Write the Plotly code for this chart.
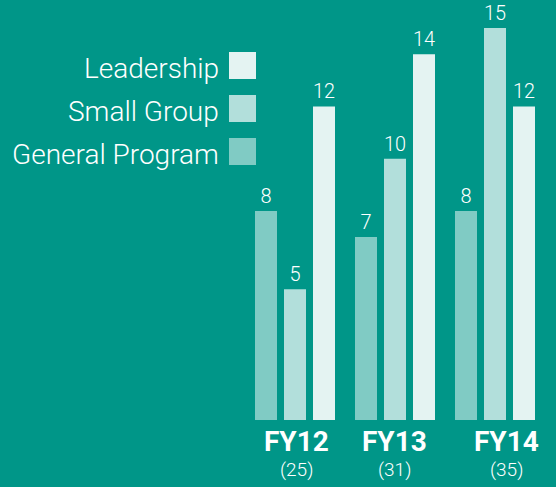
import plotly.graph_objects as go

categories = ["FY12", "FY13", "FY14"]
totals = ["(25)", "(31)", "(35)"]
series_names = ["General Program", "Small Group", "Leadership"]
general = [8, 7, 8]
small_group = [5, 10, 15]
leadership = [12, 14, 12]

colors = ["#80CBC4", "#B2DFDB", "#E4F3F2"]
offsets = [-0.40, -0.11, 0.18]
BG = "#009688"

x = [0, 1, 2]
fig = go.Figure()
for name, vals, col, off in zip(series_names, [general, small_group, leadership], colors, offsets):
    fig.add_trace(go.Bar(
        x=x, y=vals, name=name, marker=dict(color=col, line=dict(width=0)),
        width=0.22, offset=off,
        text=[str(v) for v in vals], textposition="outside",
        textfont=dict(color="white", size=20, family="Roboto", weight=300),
        cliponaxis=False, showlegend=False, hoverinfo="skip",
    ))

# custom legend (text right of box is on the left)
W, H, L, T = 300, 392, 245, 28
def px_x(p):
    return (p - L) / W
def px_y(p):
    return (T + H - p) / H

legend_order = ["Leadership", "Small Group", "General Program"]
legend_colors = ["#E4F3F2", "#B2DFDB", "#80CBC4"]
for i, (nm, col) in enumerate(zip(legend_order, legend_colors)):
    top = 52 + 43 * i
    fig.add_shape(type="rect", xref="paper", yref="paper",
                  x0=px_x(229), x1=px_x(256), y0=px_y(top + 27), y1=px_y(top),
                  fillcolor=col, line=dict(width=0))
    fig.add_annotation(xref="paper", yref="paper", x=px_x(221), y=px_y(top + 16),
                       text=nm, showarrow=False, xanchor="right", yanchor="middle",
                       font=dict(color="white", size=28, family="Roboto", weight=300))

xshifts = [1, -1, 11]
for xi, cat, tot, xs in zip(x, categories, totals, xshifts):
    fig.add_annotation(x=xi, xref="x", yref="paper", y=px_y(442), text="<b>" + cat + "</b>",
                       showarrow=False, xanchor="center", yanchor="middle", xshift=xs,
                       font=dict(color="white", size=28, family="Roboto"))
    fig.add_annotation(x=xi, xref="x", yref="paper", y=px_y(469), text=tot,
                       showarrow=False, xanchor="center", yanchor="middle", xshift=xs,
                       font=dict(color="white", size=19, family="Roboto", weight=300))

fig.update_layout(
    width=556, height=487,
    margin=dict(l=L, r=556 - L - W, t=T, b=487 - T - H),
    paper_bgcolor=BG, plot_bgcolor=BG,
    barmode="group",
    xaxis=dict(range=[-0.5, 2.5], showgrid=False, zeroline=False, showticklabels=False, ticks=""),
    yaxis=dict(range=[0, 15], showgrid=False, zeroline=False, showticklabels=False, ticks=""),
)
fig.write_html("out.html", config={"displayModeBar": False},
               post_script="document.body.style.margin='0';document.body.style.background='" + BG + "';")
